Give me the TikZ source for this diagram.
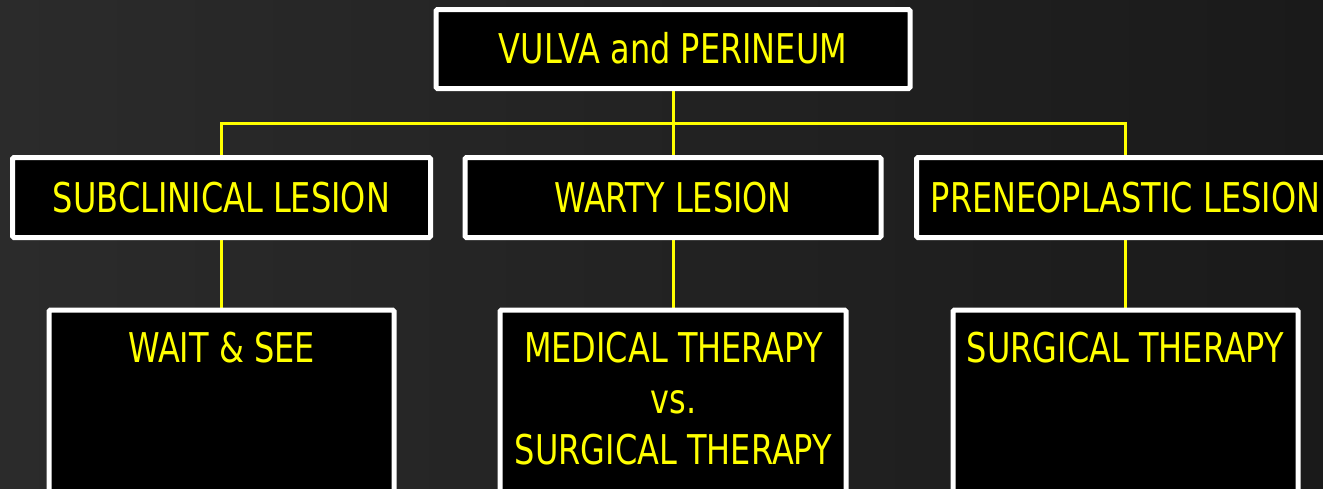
\documentclass[tikz,border=0pt]{standalone}
\usepackage{fontspec}
\setmainfont{DejaVu Sans}[FakeStretch=0.78]
\definecolor{yy}{HTML}{FFFF00}
\definecolor{bgl}{HTML}{2B2B2B}
\definecolor{bgr}{HTML}{1A1A1A}
\pgfdeclarelayer{bgzero}
\pgfdeclarelayer{bgone}
\pgfsetlayers{bgzero,bgone,main}
\tikzset{
  box/.style={draw=white, line width=5pt, fill=black, rounded corners=1.5pt,
    inner sep=0pt, text=yy, font=\fontsize{41}{51}\selectfont,
    text height=29.9pt, text depth=0pt},
  txt/.style={inner sep=0pt, text=yy, font=\fontsize{41}{51}\selectfont},
  link/.style={draw=yy, line width=3pt},
}
\begin{document}
\begin{tikzpicture}[x=1pt,y=-1pt]
\useasboundingbox (0,0) rectangle (1323,488);
\begin{pgfonlayer}{bgzero}
\shade[left color=bgl, right color=bgr] (0,0) rectangle (1323,488);
\end{pgfonlayer}
% top
\node[box, minimum width=474pt, minimum height=79pt] (top) at (673,49) {VULVA and PERINEUM};
% middle row
\node[box, minimum width=418pt, minimum height=80pt] (m1) at (221.5,197.5) {SUBCLINICAL LESION};
\node[box, minimum width=416pt, minimum height=80pt] (m2) at (673,197.5) {WARTY LESION};
\node[box, minimum width=418pt, minimum height=80pt] (m3) at (1125.5,197.5) {PRENEOPLASTIC LESION};
% bottom row
\node[box, anchor=north, minimum width=345pt, minimum height=200pt] (b1) at (221.5,307.5) {};
\node[box, anchor=north, minimum width=346pt, minimum height=200pt] (b2) at (673,307.5) {};
\node[box, anchor=north, minimum width=345pt, minimum height=200pt] (b3) at (1125.5,307.5) {};
\node[txt, anchor=base] (t1) at (221.5,362) {WAIT \& SEE};
\node[txt, anchor=base] (t2a) at (673.5,362) {MEDICAL THERAPY};
\node[txt, anchor=base] (t2b) at (673.5,413) {vs.};
\node[txt, anchor=base] (t2c) at (673.5,464) {SURGICAL THERAPY};
\node[txt, anchor=base] (t3) at (1125.5,362) {SURGICAL THERAPY};
% connectors
\coordinate (bus) at (0,123);
\begin{pgfonlayer}{bgone}
\draw[link] (top.south) -- (top.south |- bus);
\draw[link] (m1.north) -- (m1.north |- bus) -| (m3.north);
\draw[link] (m2.north) -- (m2.north |- bus);
\draw[link] (m1.south) -- (b1.north);
\draw[link] (m2.south) -- (b2.north);
\draw[link] (m3.south) -- (b3.north);
\end{pgfonlayer}
\end{tikzpicture}
\end{document}
